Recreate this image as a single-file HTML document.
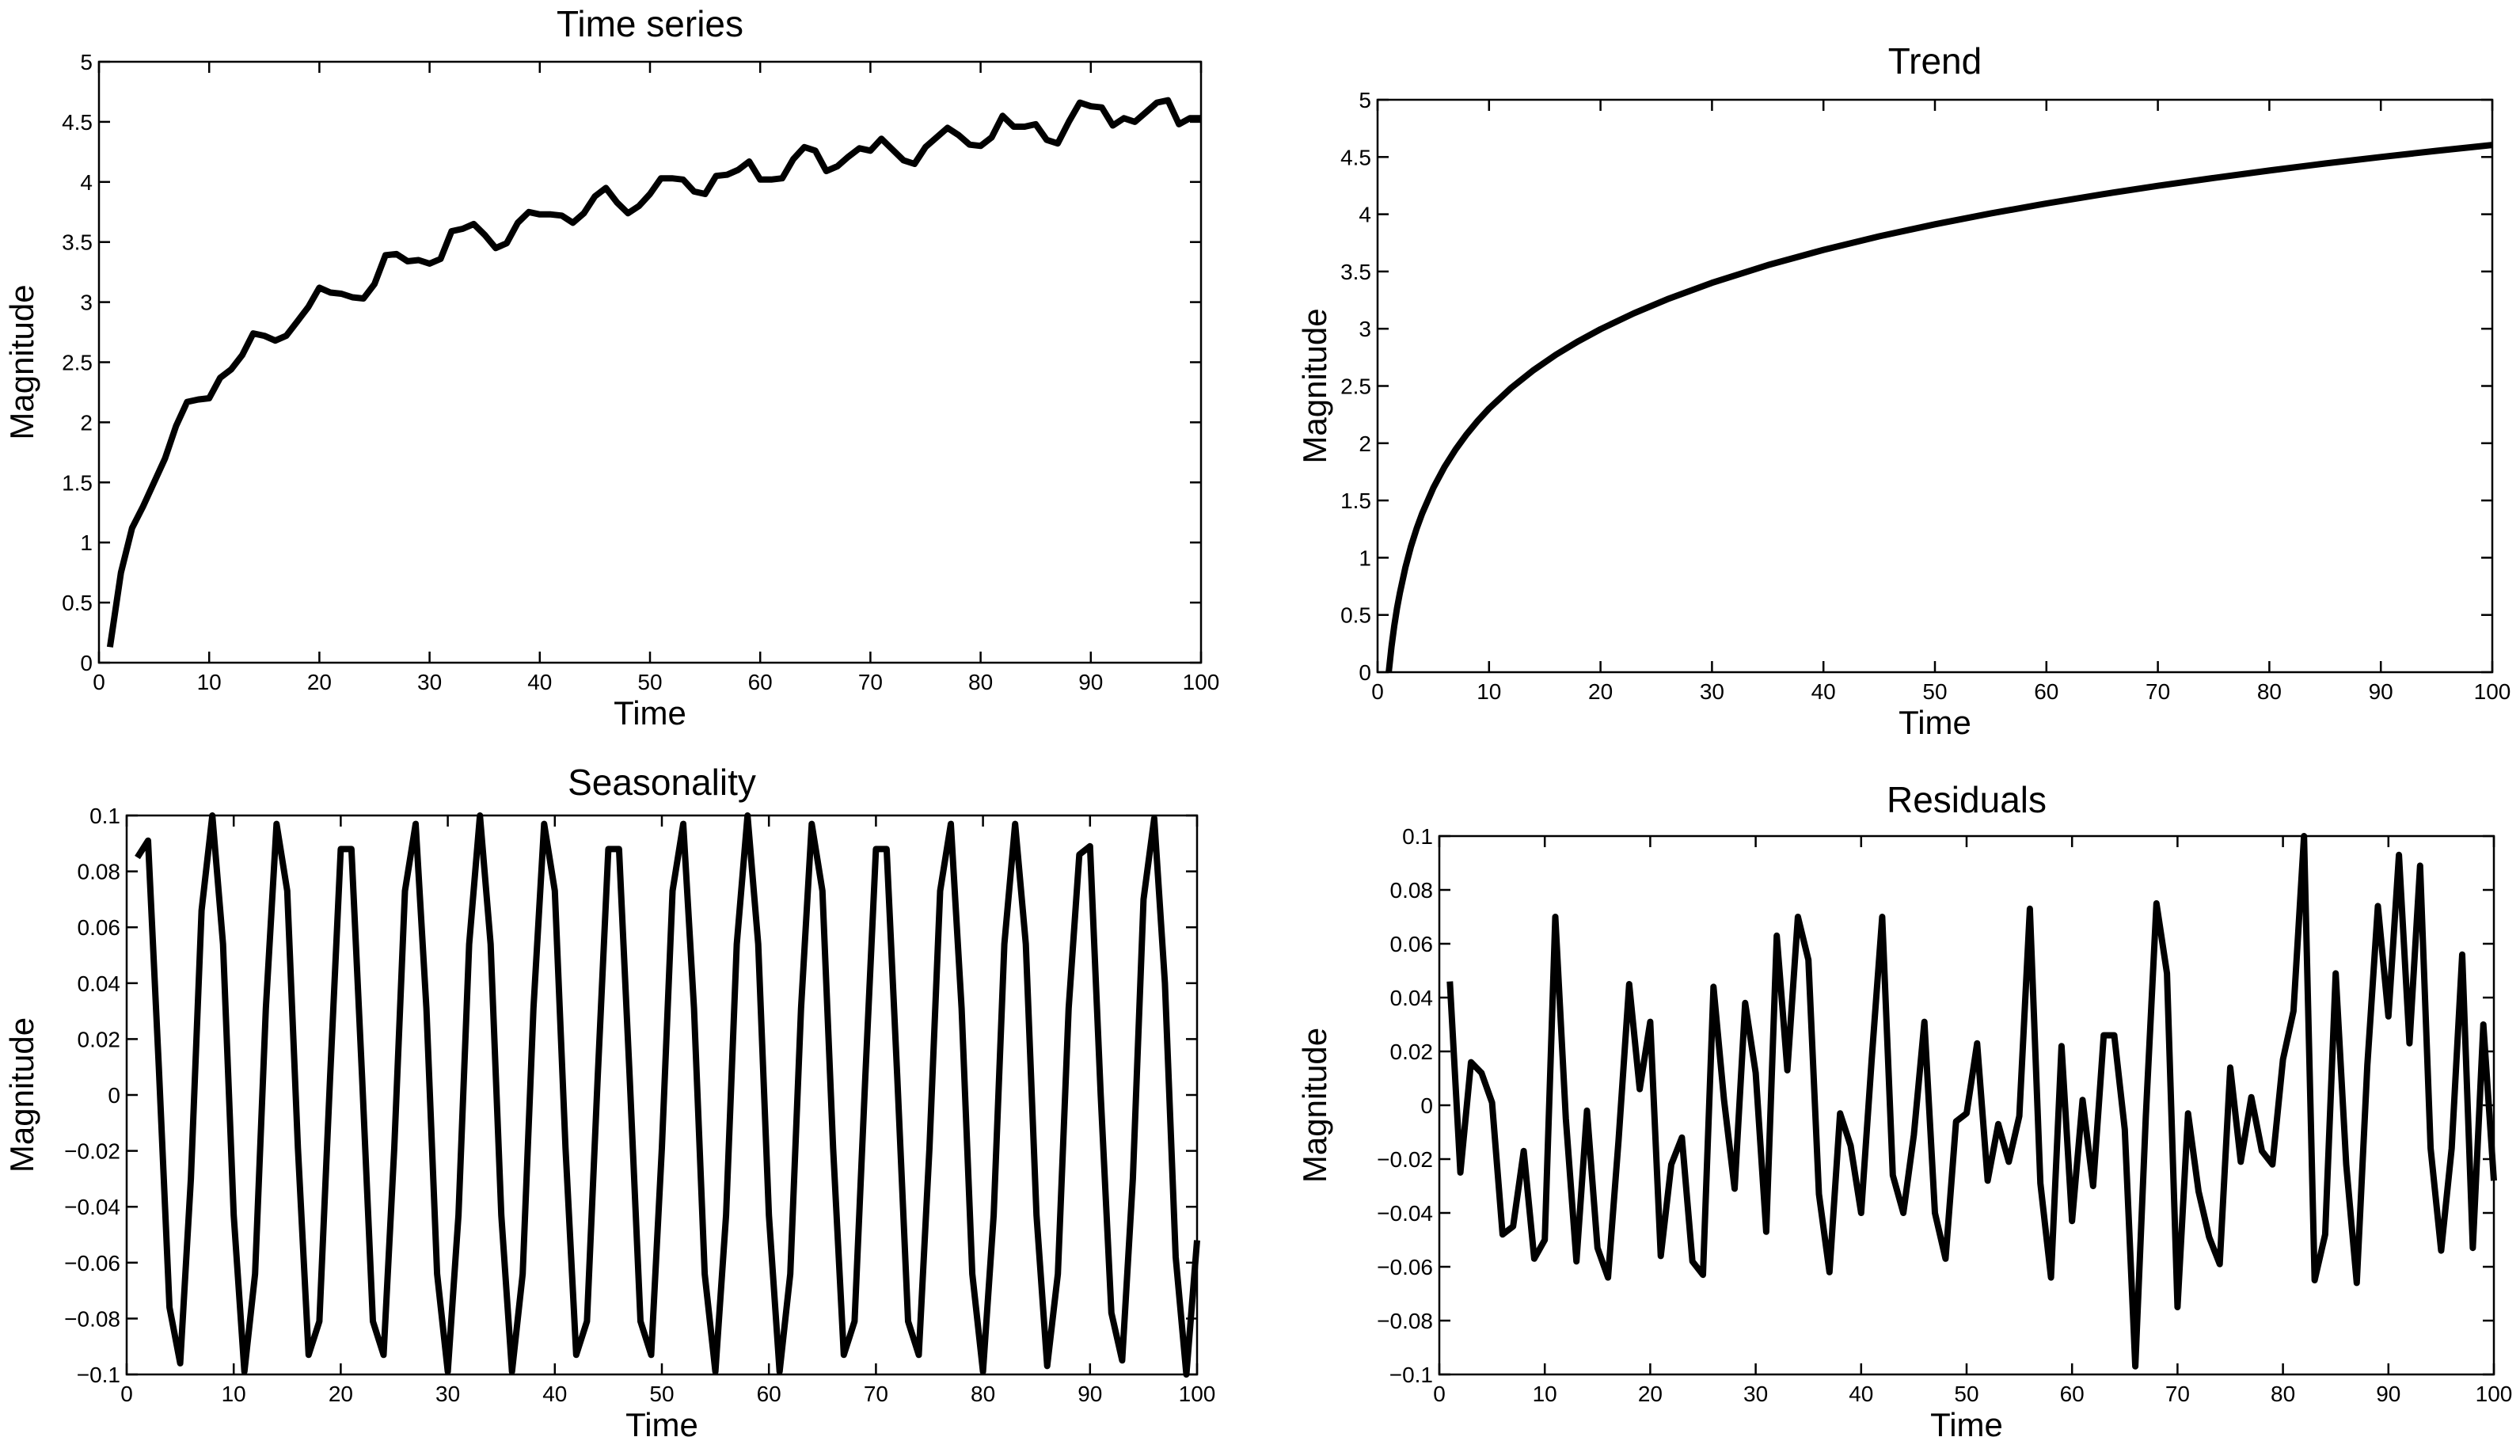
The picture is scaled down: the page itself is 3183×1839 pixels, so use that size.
<!DOCTYPE html>
<html><head><meta charset="utf-8"><style>
html,body{margin:0;padding:0;background:#fff}
svg{display:block}
text{font-family:"Liberation Sans",sans-serif;fill:#000}
</style></head><body>
<svg id="fig" width="3183" height="1839" viewBox="0 0 3183 1839" xmlns="http://www.w3.org/2000/svg"></svg>
<script>
const timeSeriesT = [];
for (let i = 1; i <= 100; i++) timeSeriesT.push(i);
const timeSeriesValues = [0.13,0.75,1.12,1.3,1.5,1.7,1.97,2.17,2.19,2.2,2.37,2.44,2.56,2.74,2.72,2.68,2.72,2.84,2.96,3.12,3.08,3.07,3.04,3.03,3.15,3.39,3.4,3.34,3.35,3.32,3.36,3.59,3.61,3.65,3.56,3.45,3.49,3.66,3.75,3.73,3.73,3.72,3.66,3.74,3.88,3.95,3.83,3.74,3.8,3.9,4.03,4.03,4.02,3.92,3.9,4.05,4.06,4.1,4.17,4.02,4.02,4.03,4.19,4.29,4.26,4.09,4.13,4.21,4.28,4.26,4.36,4.27,4.18,4.15,4.29,4.37,4.45,4.39,4.31,4.3,4.37,4.55,4.46,4.46,4.48,4.35,4.32,4.5,4.66,4.63,4.62,4.47,4.53,4.5,4.58,4.66,4.68,4.48,4.53,4.53];
const trendT = [1,1.25,1.5,1.75,2,2.5,3,3.5,4,5,6,7,8,9,10,12,14,16,18,20,23,26,30,35,40,45,50,55,60,65,70,75,80,85,90,95,100];
const trendValues = [0,0.223,0.405,0.560,0.693,0.916,1.099,1.253,1.386,1.609,1.792,1.946,2.079,2.197,2.303,2.485,2.639,2.773,2.890,2.996,3.135,3.258,3.401,3.555,3.689,3.807,3.912,4.007,4.094,4.174,4.248,4.317,4.382,4.443,4.500,4.554,4.605];
const seasonValues = [0.085,0.091,0.01,-0.076,-0.096,-0.03,0.066,
0.100,0.054,-0.043,-0.099,-0.064,0.031,0.097,0.073,-0.019,-0.093,-0.081,0.006,0.088,0.088,0.006,-0.081,-0.093,-0.019,0.073,0.097,0.031,-0.064,-0.099,-0.043,0.054,
0.100,0.054,-0.043,-0.099,-0.064,0.031,0.097,0.073,-0.019,-0.093,-0.081,0.006,0.088,0.088,0.006,-0.081,-0.093,-0.019,0.073,0.097,0.031,-0.064,-0.099,-0.043,0.054,
0.100,0.054,-0.043,-0.099,-0.064,0.031,0.097,0.073,-0.019,-0.093,-0.081,0.006,0.088,0.088,0.006,-0.081,-0.093,-0.019,0.073,0.097,0.031,-0.064,-0.099,-0.043,0.054,
0.097,0.054,-0.043,-0.097,-0.064,0.031,0.086,0.089,0.0,-0.078,-0.095,-0.03,0.07,0.099,0.04,-0.058,-0.1,-0.052];
const residualValues = [0.046,-0.025,0.016,0.012,0.001,-0.048,-0.045,-0.017,-0.057,-0.050,0.070,-0.005,-0.058,-0.002,-0.053,-0.064,-0.013,0.045,0.006,0.031,-0.056,-0.022,-0.012,-0.058,-0.063,0.044,0.002,-0.031,0.038,0.012,-0.047,0.063,0.013,0.070,0.054,-0.033,-0.062,-0.003,-0.015,-0.040,0.017,0.070,-0.026,-0.040,-0.011,0.031,-0.040,-0.057,-0.006,-0.003,0.023,-0.028,-0.007,-0.021,-0.004,0.073,-0.029,-0.064,0.022,-0.043,0.002,-0.030,0.026,0.026,-0.009,-0.097,-0.004,0.075,0.049,-0.075,-0.003,-0.032,-0.049,-0.059,0.014,-0.021,0.003,-0.017,-0.022,0.017,0.035,0.100,-0.065,-0.048,0.049,-0.022,-0.066,0.015,0.074,0.033,0.093,0.023,0.089,-0.016,-0.054,-0.016,0.056,-0.053,0.030,-0.028];
const xTicks = [0,10,20,30,40,50,60,70,80,90,100];
const tsYTicks = ['0','0.5','1','1.5','2','2.5','3','3.5','4','4.5','5'];
const smallYTicks = ['\u22120.1','\u22120.08','\u22120.06','\u22120.04','\u22120.02','0','0.02','0.04','0.06','0.08','0.1'];
const smallYVals = [-0.1,-0.08,-0.06,-0.04,-0.02,0,0.02,0.04,0.06,0.08,0.1];
const tsYVals = [0,0.5,1,1.5,2,2.5,3,3.5,4,4.5,5];

const NS = 'http://www.w3.org/2000/svg';
const svg = document.getElementById('fig');
function mk(tag, attrs, parent) {
  const e = document.createElementNS(NS, tag);
  for (const k in attrs) e.setAttribute(k, attrs[k]);
  (parent || svg).appendChild(e);
  return e;
}
function panel(key, box, ymin, ymax, yVals, yLabels, title, titleY, xs, ys, ylabX) {
  const g = mk('g', {});
  
  
  const sx = v => box.l + (v - 0) / 100 * (box.r - box.l);
  const sy = v => box.b - (v - ymin) / (ymax - ymin) * (box.b - box.t);
  const rect = mk('rect', {x: box.l, y: box.t, width: box.r - box.l, height: box.b - box.t, fill: '#fff', stroke: '#000', 'stroke-width': 2.5}, g);
  
  
  xTicks.forEach(v => {
    const x = sx(v);
    mk('line', {x1: x, x2: x, y1: box.b, y2: box.b - 14, stroke: '#000', 'stroke-width': 2.5}, g);
    mk('line', {x1: x, x2: x, y1: box.t, y2: box.t + 14, stroke: '#000', 'stroke-width': 2.5}, g);
    const t = mk('text', {x: x, y: box.b + 34, 'font-size': 28, 'text-anchor': 'middle'}, g);
    t.textContent = v;
    
    
  });
  yVals.forEach((v, i) => {
    const y = sy(v);
    mk('line', {x1: box.l, x2: box.l + 14, y1: y, y2: y, stroke: '#000', 'stroke-width': 2.5}, g);
    mk('line', {x1: box.r, x2: box.r - 14, y1: y, y2: y, stroke: '#000', 'stroke-width': 2.5}, g);
    const t = mk('text', {x: box.l - 8, y: y + 10, 'font-size': 28, 'text-anchor': 'end'}, g);
    t.textContent = yLabels[i];
    
    
  });
  const pts = xs.map((x, i) => sx(x).toFixed(1) + ',' + sy(ys[i]).toFixed(1)).join(' ');
  const line = mk('polyline', {points: pts, fill: 'none', stroke: '#000', 'stroke-width': 8, 'stroke-linejoin': 'round'}, g);
  
  
  const cx = (box.l + box.r) / 2;
  const tt = mk('text', {x: cx, y: titleY, 'font-size': 46, 'text-anchor': 'middle'}, g);
  tt.textContent = title;
  
  
  const xl = mk('text', {x: cx, y: box.b + 78, 'font-size': 42, 'text-anchor': 'middle'}, g);
  xl.textContent = 'Time';
  
  
  const cy = (box.t + box.b) / 2;
  const yl = mk('text', {x: ylabX, y: cy, 'font-size': 42, 'text-anchor': 'middle', transform: 'rotate(-90 ' + ylabX + ' ' + cy + ')'}, g);
  yl.textContent = 'Magnitude';
  
  
}
panel('time-series', {l:125, r:1517, t:78, b:837}, 0, 5, tsYVals, tsYTicks, 'Time series', 46, timeSeriesT, timeSeriesValues, 42);
panel('trend', {l:1740, r:3148, t:126, b:849}, 0, 5, tsYVals, tsYTicks, 'Trend', 93, trendT, trendValues, 1675);
panel('seasonality', {l:160, r:1512, t:1030, b:1736}, -0.1, 0.1, smallYVals, smallYTicks, 'Seasonality', 1004, timeSeriesT, seasonValues, 42);
panel('residuals', {l:1818, r:3150, t:1056, b:1736}, -0.1, 0.1, smallYVals, smallYTicks, 'Residuals', 1026, timeSeriesT, residualValues, 1675);
</script>
</body></html>
